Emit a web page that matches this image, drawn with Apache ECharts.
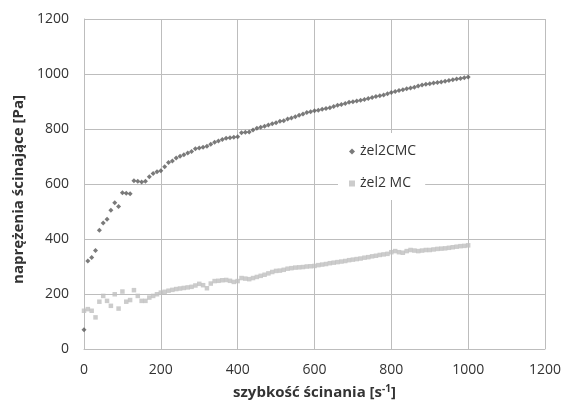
<!DOCTYPE html>
<html>
<head>
<meta charset="utf-8">
<script src="https://cdn.jsdelivr.net/npm/echarts@6/dist/echarts.min.js"></script>
<style>html,body{margin:0;padding:0;background:#fff}#c{width:564px;height:405px}</style>
</head>
<body>
<div id="c"></div>
<script>
var shearRate = [];
for (var i = 0; i <= 100; i++) shearRate.push(i * 10);
var cmcValues = [70,320,333,358,432,458,472,505,532,518,
568,566,565,612,610,607,610,626,638,645,
648,663,678,684,695,701,706,713,718,728,
731,734,737,745,752,756,762,766,768,770,
772,786,788,789,796,803,806,810,815,819,
823,828,830,836,840,845,850,855,860,863,
866,868,872,875,877,882,886,889,893,897,
899,902,905,907,911,915,918,921,924,928,
933,936,940,943,946,949,952,956,960,963,
965,967,969,971,974,976,979,982,984,986,989];
var mcValues = [139,145,139,115,172,193,175,157,199,147,
209,172,178,214,193,175,175,187,193,199,
205,208,212,215,218,220,222,224,226,231,
237,232,221,238,247,248,250,251,248,244,
247,258,256,254,258,262,266,270,275,280,
284,285,288,292,294,296,297,298,300,301,
302,305,307,309,312,314,316,318,320,323,
325,327,329,332,334,337,339,342,344,346,
352,356,352,350,356,360,358,356,358,360,
360,362,364,365,366,368,370,372,374,375,377];
var seriesNames = ['żel2CMC', 'żel2 MC'];
var xTitle = 'szybkość ścinania [s{sup|-1}]';
var yTitle = 'naprężenia ścinające [Pa]';

function pairs(xs, ys) { return xs.map(function (x, k) { return [x, ys[k]]; }); }

var chart = echarts.init(document.getElementById('c'));
var font = 'Open Sans';
chart.setOption({
  animation: false,
  backgroundColor: '#fff',
  grid: { left: 84, right: 18.5, top: 19, bottom: 55, containLabel: false },
  legend: {
    orient: 'vertical', left: 338, top: 133,
    backgroundColor: '#fff', padding: [9, 9, 7, 11],
    itemWidth: 6, itemHeight: 6, itemGap: 13,
    textStyle: { fontFamily: font, fontSize: 14, color: '#333', lineHeight: 19 },
    data: [
      { name: seriesNames[0], icon: 'diamond', itemStyle: { color: '#595959' } },
      { name: seriesNames[1], icon: 'rect', itemStyle: { color: '#bfbfbf' } }
    ]
  },
  xAxis: {
    type: 'value', min: 0, max: 1200, interval: 200,
    name: xTitle, nameLocation: 'middle', nameGap: 35,
    nameTextStyle: { fontFamily: font, fontSize: 15, fontWeight: 'bold', color: '#333',
      rich: { sup: { fontFamily: font, fontSize: 10, fontWeight: 'bold', color: '#333', verticalAlign: 'top', padding: [0, 0, 7, 0] } } },
    axisLine: { show: true, lineStyle: { color: '#bdbdbd', width: 1 } },
    axisTick: { show: false },
    axisLabel: { fontFamily: font, fontSize: 14, color: '#333', margin: 14, formatter: function (v) { return String(v); } },
    splitLine: { show: true, lineStyle: { color: '#bdbdbd', width: 1 } }
  },
  yAxis: {
    type: 'value', min: 0, max: 1200, interval: 200,
    name: yTitle, nameLocation: 'middle', nameGap: 57, nameRotate: 90,
    nameTextStyle: { fontFamily: font, fontSize: 15, fontWeight: 'bold', color: '#333', padding: [0, 11, 0, 0] },
    axisLine: { show: true, lineStyle: { color: '#bdbdbd', width: 1 } },
    axisTick: { show: false },
    axisLabel: { fontFamily: font, fontSize: 14, color: '#333', margin: 15, formatter: function (v) { return String(v); } },
    splitLine: { show: true, lineStyle: { color: '#bdbdbd', width: 1 } }
  },
  series: [
    { name: seriesNames[0], type: 'scatter', symbol: 'diamond', symbolSize: 5,
      itemStyle: { color: '#595959' }, data: pairs(shearRate, cmcValues) },
    { name: seriesNames[1], type: 'scatter', symbol: 'rect', symbolSize: 4.5,
      itemStyle: { color: '#bfbfbf' }, data: pairs(shearRate, mcValues) }
  ]
});
</script>
</body>
</html>
